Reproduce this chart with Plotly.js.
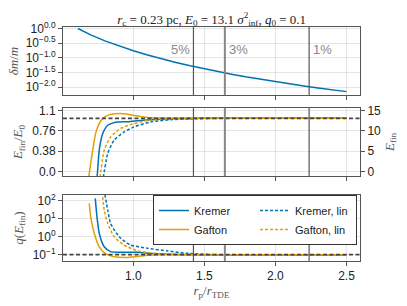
<!DOCTYPE html>
<html><head><meta charset="utf-8">
<script src="https://cdn.plot.ly/plotly-3.0.1.min.js"></script>
<style>html,body{margin:0;padding:0;background:#fff}#plot{width:407px;height:306px}</style>
</head><body><div id="plot"></div>
<script>
// ---- data ----
const xlim = [0.505, 2.595];
const vlines = [1.423, 1.644, 2.237];
const vlineLabels = ['5%', '3%', '1%'];
const E0 = 13.1;
const q0 = 0.1;

// panel 1: delta m / m
const rp_dm = [0.61,0.7,0.8,0.9,1.0,1.1,1.2,1.3,1.4,1.5,1.6,1.7,1.8,1.9,2.0,2.1,2.2,2.3,2.4,2.5];
const dm = [1.0,0.606,0.380,0.252,0.174,0.1246,0.0919,0.0695,0.0536,0.0421,0.0336,0.0272,0.0222,0.0184,0.0154,0.0130,0.0110,0.00943,0.00813,0.00705];

// panel 2: E_fin / E0
const rp_EK = [0.735,0.745,0.76,0.784,0.82,0.86,0.89,0.93,0.96,0.99,1.03,1.1,1.2,1.3,1.45,1.8,2.5];
const E_K   = [-0.2,-0.09,0.40,0.71,0.87,0.915,0.93,0.935,0.935,0.945,0.955,0.97,0.985,0.995,1.0,1.0,1.0];
const rp_EG = [0.68,0.687,0.714,0.737,0.772,0.80,0.84,0.88,0.91,0.95,0.993,1.05,1.10,1.2,1.4,1.8,2.5];
const E_G   = [-0.2,-0.09,0.40,0.74,0.96,1.03,1.075,1.088,1.09,1.08,1.06,1.035,1.015,1.005,1.0,1.0,1.0];
const rp_EKl = [0.783,0.79,0.82,0.865,0.934,1.005,1.12,1.26,1.4,1.6,2.0,2.5];
const E_Kl   = [-0.2,-0.09,0.34,0.59,0.74,0.84,0.93,0.975,0.99,1.0,1.0,1.0];
const rp_EGl = [0.76,0.767,0.795,0.84,0.91,0.99,1.10,1.2,1.3,1.45,1.8,2.5];
const E_Gl   = [-0.2,-0.09,0.40,0.65,0.81,0.89,0.96,0.985,0.995,1.0,1.0,1.0];

// panel 3: q(E_fin)
const rp_qK = [0.732,0.744,0.76,0.795,0.84,0.90,0.96,1.03,1.10,1.2,1.3,1.5,2.5];
const q_K   = [135,12.9,1.55,0.275,0.148,0.138,0.135,0.135,0.12,0.11,0.102,0.1,0.1];
const rp_qG = [0.69,0.70,0.725,0.76,0.807,0.865,0.96,1.03,1.10,1.2,1.4,2.5];
const q_G   = [72,12.9,1.55,0.275,0.110,0.078,0.071,0.079,0.093,0.098,0.1,0.1];
const rp_qKl = [0.80,0.82,0.84,0.90,0.98,1.10,1.24,1.38,1.55,2.5];
const q_Kl   = [220,30.2,5.5,1.0,0.347,0.229,0.162,0.120,0.102,0.1];
const rp_qGl = [0.784,0.795,0.82,0.865,0.934,1.028,1.14,1.3,1.5,2.5];
const q_Gl   = [166,30.2,5.5,1.0,0.347,0.166,0.120,0.105,0.1,0.1];

const dmTicks = [1, 0.316227766, 0.1, 0.0316227766, 0.01];
const dmTickText = ['10<sup>0.0</sup>','10<sup>−0.5</sup>','10<sup>−1.0</sup>','10<sup>−1.5</sup>','10<sup>−2.0</sup>'];
const eTicks = [0, 0.3817, 0.7634, 1.145];
const eTickText = ['0.0','0.38','0.76','1.1'];
const efinTicks = [0, 5, 10, 15];
const qTicks = [100, 10, 1, 0.1];
const qTickText = ['10<sup>2</sup>','10<sup>1</sup>','10<sup>0</sup>','10<sup>−1</sup>'];
const xTicks = [1.0, 1.5, 2.0, 2.5];
const xTickText = ['1.0', '1.5', '2.0', '2.5'];

// ---- styling ----
const BLUE = 'rgb(0,114,178)';
const ORANGE = 'rgb(230,159,0)';
const FRAME = '#555';
const GRID = 'rgba(0,0,0,0.10)';
const SERIF = 'Liberation Serif, DejaVu Serif, serif';
const SANS = 'Liberation Sans, Arial, sans-serif';
const DASH = '3px,2px';
const REFDASH = '4px,2.5px';

const eRange = [-0.088, 1.196];

const sp = {shape:'spline', smoothing:0.6};
const traces = [
  {x: rp_dm, y: dm, xaxis:'x3', yaxis:'y4', mode:'lines', line:{color:BLUE, width:1.5}, showlegend:false},
  // panel 2
  {x: rp_EK, y: E_K, xaxis:'x2', yaxis:'y2', mode:'lines', line:Object.assign({color:BLUE, width:1.5}, sp), showlegend:false},
  {x: rp_EKl, y: E_Kl, xaxis:'x2', yaxis:'y2', mode:'lines', line:Object.assign({color:BLUE, width:1.5, dash:DASH}, sp), showlegend:false},
  {x: rp_EG, y: E_G, xaxis:'x2', yaxis:'y2', mode:'lines', line:Object.assign({color:ORANGE, width:1.5}, sp), showlegend:false},
  {x: rp_EGl, y: E_Gl, xaxis:'x2', yaxis:'y2', mode:'lines', line:Object.assign({color:ORANGE, width:1.5, dash:DASH}, sp), showlegend:false},
  {x: xlim, y: [E0, E0], xaxis:'x2', yaxis:'y3', mode:'lines', line:{color:'#444', width:1.8, dash:REFDASH}, showlegend:false},
  // panel 3
  {x: rp_qK, y: q_K, xaxis:'x', yaxis:'y', mode:'lines', name:'Kremer', line:Object.assign({color:BLUE, width:1.5}, sp)},
  {x: rp_qKl, y: q_Kl, xaxis:'x', yaxis:'y', mode:'lines', name:'Kremer, lin', line:Object.assign({color:BLUE, width:1.5, dash:DASH}, sp)},
  {x: rp_qG, y: q_G, xaxis:'x', yaxis:'y', mode:'lines', name:'Gafton', line:Object.assign({color:ORANGE, width:1.5}, sp)},
  {x: rp_qGl, y: q_Gl, xaxis:'x', yaxis:'y', mode:'lines', name:'Gafton, lin', line:Object.assign({color:ORANGE, width:1.5, dash:DASH}, sp)},
  {x: xlim, y: [q0, q0], xaxis:'x', yaxis:'y', mode:'lines', line:{color:'#444', width:1.8, dash:REFDASH}, showlegend:false}
];

const axBase = {showline:true, mirror:true, linecolor:FRAME, linewidth:1, showgrid:true, gridcolor:GRID,
  ticks:'outside', ticklen:4, tickcolor:FRAME, tickfont:{family:SANS, size:12, color:'#222'}, zeroline:false};

const xBase = Object.assign({}, axBase, {range: xlim, tickvals: xTicks, ticktext: xTickText});

const shapes = [];
const vw = [1.2, 2, 1.2];
const vc = ['#555', '#888', '#555'];
[['x','y'],['x2','y2'],['x3','y4']].forEach(([xa, ya]) => {
  vlines.forEach((v, i) => shapes.push({type:'line', xref:xa, yref:ya+' domain', x0:v, x1:v, y0:0, y1:1,
    line:{color:vc[i], width:vw[i]}}));
});

const annotations = vlines.map((v, i) => ({xref:'x3', yref:'y4', x:v, y:-0.7, text:vlineLabels[i],
  showarrow:false, xanchor: i === 0 ? 'right' : 'left', xshift: i === 0 ? -1 : 2,
  font:{family:SANS, size:13, color:'#888'}}));

const layout = {
  width:407, height:306, margin:{l:63, r:47, t:27, b:45},
  paper_bgcolor:'#fff', plot_bgcolor:'#fff',
  title:{text:'<i>r</i><sub>c</sub> = 0.23 pc, <i>E</i><sub>0</sub> = 13.1 <i>σ</i><sup>2</sup><sub>inf</sub>, <i>q</i><sub>0</sub> = 0.1',
    font:{family:SERIF, size:13, color:'#222'}, x:0.52, xanchor:'center', y:0.938, yanchor:'middle'},
  xaxis: Object.assign({}, xBase, {anchor:'y', title:{text:'<i>r</i><sub>p</sub>/<i>r</i><sub>TDE</sub>', font:{family:SERIF, size:13, color:'#555'}, standoff:1}}),
  xaxis2: Object.assign({}, xBase, {anchor:'y2', matches:'x', showticklabels:false}),
  xaxis3: Object.assign({}, xBase, {anchor:'y4', matches:'x', showticklabels:false}),
  yaxis: Object.assign({}, axBase, {domain:[0,0.282], type:'log', range:[-1.35, 2.32], tickvals:qTicks, ticktext:qTickText,
    title:{text:'<i>q</i>(<i>E</i><sub>fin</sub>)', font:{family:SERIF, size:13, color:'#555'}, standoff:6}}),
  yaxis2: Object.assign({}, axBase, {domain:[0.363,0.654], anchor:'x2', range:eRange, tickvals:eTicks, ticktext:eTickText,
    title:{text:'<i>E</i><sub>fin</sub>/<i>E</i><sub>0</sub>', font:{family:SERIF, size:13, color:'#555'}, standoff:6}}),
  yaxis3: Object.assign({}, axBase, {domain:[0.363,0.654], anchor:'x2', overlaying:'y2', side:'right', showgrid:false, mirror:false,
    range:[eRange[0]*E0, eRange[1]*E0], tickvals:efinTicks,
    title:{text:'<i>E</i><sub>fin</sub>', font:{family:SERIF, size:13, color:'#555'}, standoff:4}}),
  yaxis4: Object.assign({}, axBase, {domain:[0.709,1], anchor:'x3', type:'log', range:[-2.27, 0.052], tickvals:dmTicks, ticktext:dmTickText,
    title:{text:'<i>δm</i>/<i>m</i>', font:{family:SERIF, size:13, color:'#555'}, standoff:4}}),
  legend:{orientation:'h', x:0.99, xanchor:'right', y:0.282, yanchor:'top', entrywidth:56, entrywidthmode:'pixels',
    bgcolor:'#fff', bordercolor:'#333', borderwidth:1, font:{family:SANS, size:11, color:'#222'}, tracegroupgap:0},
  shapes: shapes, annotations: annotations, showlegend:true
};

Plotly.newPlot('plot', traces, layout, {staticPlot:true, displayModeBar:false});
</script></body></html>
